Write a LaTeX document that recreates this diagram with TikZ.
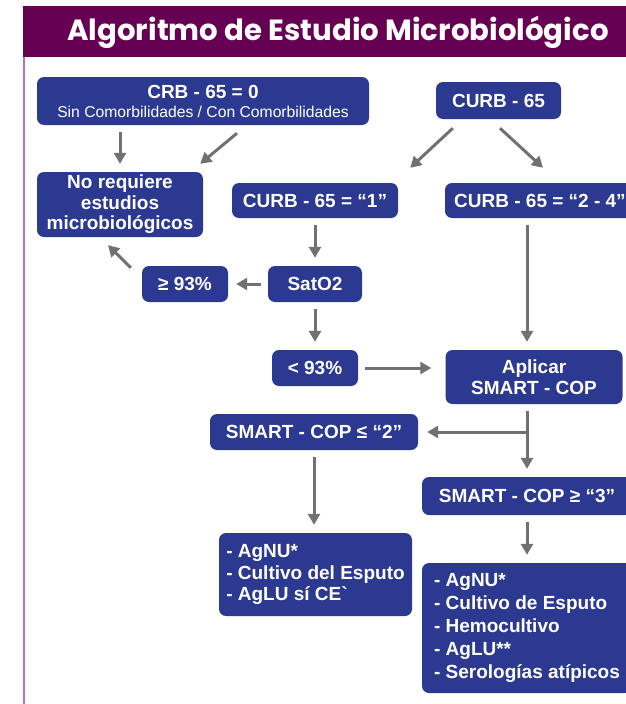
\documentclass[tikz,border=0pt]{standalone}
\usepackage{fontspec}
\setmainfont{Liberation Sans}
\newfontfamily\titulofont{Poppins}
\usetikzlibrary{arrows.meta, calc}
\definecolor{azulcaja}{RGB}{44,57,144}
\definecolor{morado}{RGB}{102,0,82}
\definecolor{lila}{RGB}{180,115,180}
\definecolor{gris}{RGB}{112,113,116}

\begin{document}
\begin{tikzpicture}[x=1pt, y=-1pt, >={Triangle[length=11pt, width=12pt]},
  caja/.style={fill=azulcaja, rounded corners=7pt, text=white, align=center,
    inner sep=0pt, font=\bfseries\fontsize{19}{21}\selectfont},
  flecha/.style={->, draw=gris, line width=3pt, shorten <=7pt, shorten >=8pt}]
  \useasboundingbox (0,0) rectangle (626,704);
  % cabecera
  \fill[morado] (23,6) rectangle (626,57);
  \node[text=white, font=\titulofont\bfseries\fontsize{29.2}{33}\selectfont] (titulo) at (338,32)
    {Algoritmo de Estudio Microbiológico};
  \draw[lila, line width=2pt] (24,57) -- (24,704);
  % cajas
  \node[caja, minimum width=332, minimum height=48] (crb) at (203,101)
    {CRB - 65 = 0\\[-2pt]{\mdseries\fontsize{15.7}{17}\selectfont Sin Comorbilidades / Con Comorbilidades}};
  \node[caja, minimum width=125, minimum height=37] (curb) at (498.5,100.5) {CURB - 65};
  \node[caja, minimum width=166, minimum height=65, font=\bfseries\fontsize{19}{20.5}\selectfont]
    (noreq) at (120,204.5) {No requiere\\estudios\\microbiológicos};
  \node[caja, minimum width=166, minimum height=35] (curb1) at (315,200.5) {CURB - 65 = “1”};
  \node[caja, minimum width=190, minimum height=35] (curb24) at (540,200.5) {CURB - 65 = “2 - 4”};
  \node[caja, minimum width=94, minimum height=36] (sat) at (315,284) {SatO2};
  \node[caja, minimum width=86, minimum height=36] (ge93) at (185,284) {≥ 93\%};
  \node[caja, minimum width=86, minimum height=36] (lt93) at (315,368) {< 93\%};
  \node[caja, minimum width=177, minimum height=54] (aplicar) at (534,377) {Aplicar\\SMART - COP};
  \node[caja, minimum width=208, minimum height=36] (sm2) at (314,432) {SMART - COP ≤ “2”};
  \node[caja, minimum width=210, minimum height=38] (sm3) at (527,496) {SMART - COP ≥ “3”};
  \node[caja, minimum width=193, minimum height=83, align=left,
    font=\bfseries\fontsize{19}{21.5}\selectfont] (lista1) at (315.5,574.5)
    {- AgNU*\\- Cultivo del Esputo\\- AgLU sí CE\textasciigrave};
  \node[caja, minimum width=210, minimum height=130, align=left,
    font=\bfseries\fontsize{19}{23}\selectfont] (lista2) at (527,628)
    {- AgNU*\\- Cultivo de Esputo\\- Hemocultivo\\- AgLU**\\- Serologías atípicos};
  % flechas
  \draw[flecha] (crb.south -| noreq.north) -- (noreq.north);
  \draw[flecha, shorten <=0pt, shorten >=0pt] ($(crb.south)+(34,8)$) -- ($(noreq.north east)+(-3,-8)$);
  \draw[flecha, shorten <=0pt, shorten >=0pt] ($(curb.south west)+(17,9)$) -- ($(curb1.north east)+(12,-15)$);
  \draw[flecha, shorten <=0pt, shorten >=0pt] ($(curb.south)+(1.5,9)$) -- ($(curb24.north)+(3,-15)$);
  \draw[flecha] (curb1.south) -- (sat.north);
  \draw[flecha] (sat.west) -- (ge93.east);
  \draw[flecha, shorten <=0pt, shorten >=0pt] ($(ge93.north west)+(-11,2)$) -- ($(noreq.south)+(-12,8)$);
  \draw[flecha] (sat.south) -- (lt93.north);
  \draw[flecha, shorten >=14pt] (lt93.east) -- (lt93.east -| aplicar.west);
  \draw[flecha] (curb24.south -| sm3.north) -- (aplicar.north -| sm3.north);
  \draw[flecha] (aplicar.south -| sm3.north) -- (sm3.north);
  \draw[flecha, shorten <=0pt, shorten >=9pt] ($(sm2.east -| sm3.north)+(1.5,0)$) -- (sm2.east);
  \draw[flecha] (sm2.south) -- (sm2.south |- lista1.north);
  \draw[flecha] (sm3.south) -- (lista2.north);
\end{tikzpicture}
\end{document}
